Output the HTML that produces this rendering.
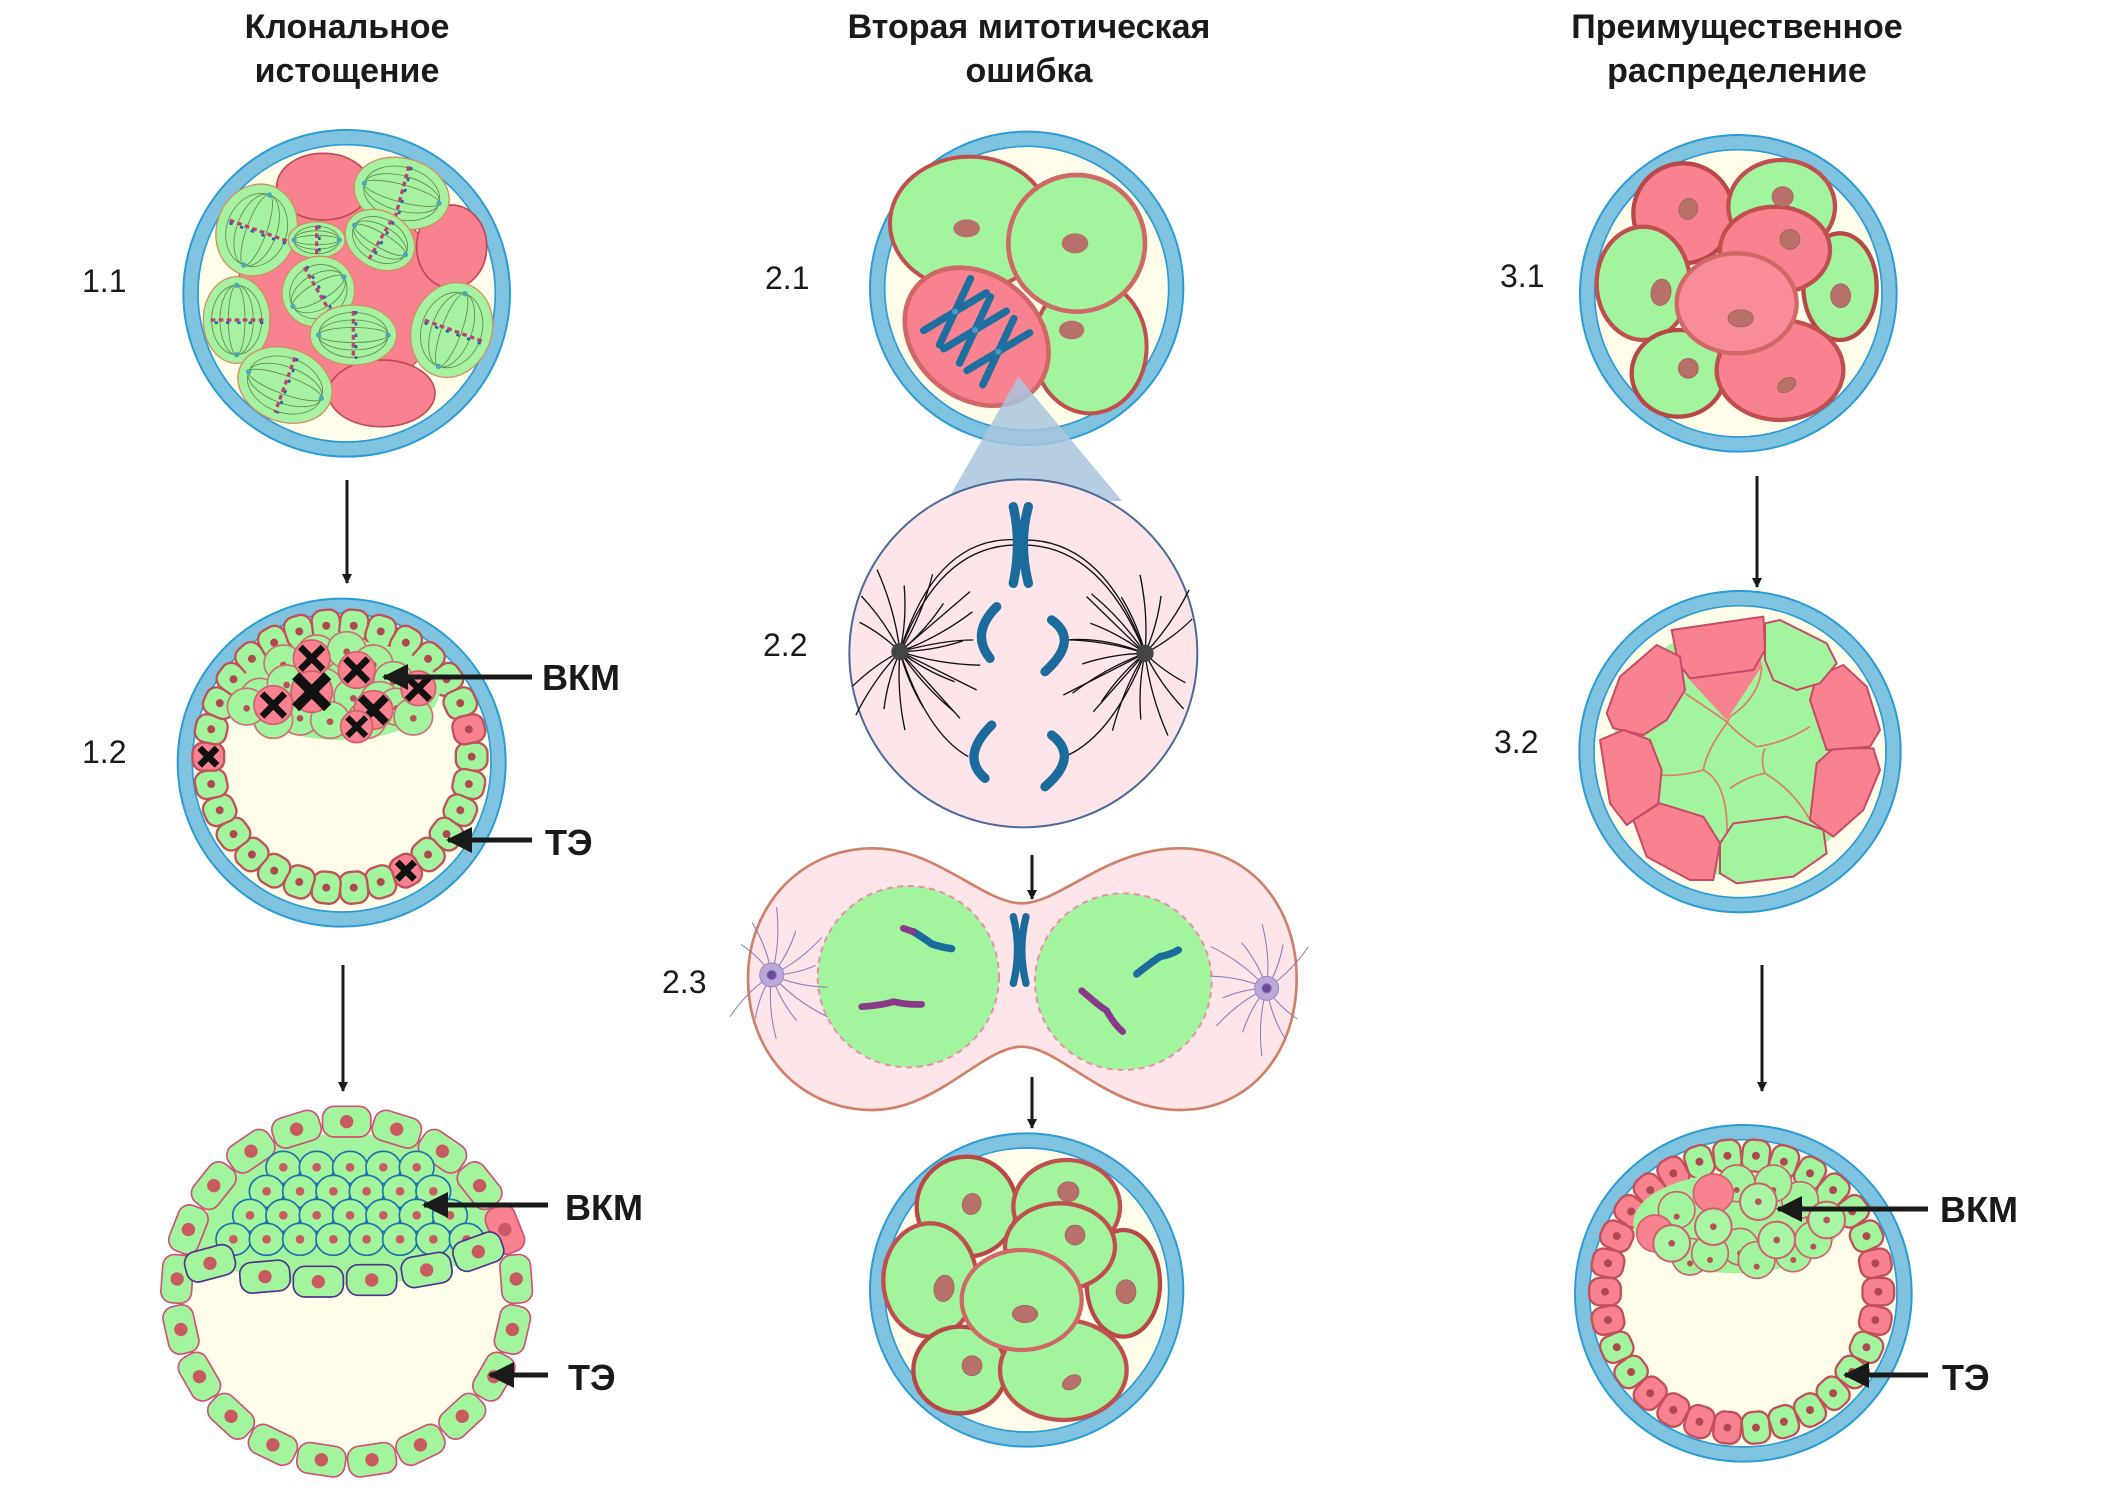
<!DOCTYPE html>
<html><head><meta charset="utf-8">
<style>
html,body{margin:0;padding:0;background:#fff;}
svg{display:block;}
text{font-family:"Liberation Sans",sans-serif;}
</style></head>
<body>
<svg id="s" xmlns="http://www.w3.org/2000/svg" width="2126" height="1495" viewBox="0 0 2126 1495">
<defs>
<marker id="ah" markerWidth="10" markerHeight="10" refX="9" refY="5" orient="auto" markerUnits="userSpaceOnUse"><path d="M0,0 L10,5 L0,10 Z" fill="#1a1a1a"/></marker>
<marker id="ahb" markerWidth="26" markerHeight="26" refX="24" refY="13" orient="auto" markerUnits="userSpaceOnUse"><path d="M0,0 L26,13 L0,26 Z" fill="#1a1a1a"/></marker>
</defs>
<g font-weight="bold" font-size="34" fill="#1a1a1a" text-anchor="middle">
<text x="347" y="38">Клональное</text><text x="347" y="82">истощение</text>
<text x="1029" y="38">Вторая митотическая</text><text x="1029" y="82">ошибка</text>
<text x="1737" y="38">Преимущественное</text><text x="1737" y="82">распределение</text>
</g>
<g font-size="32" fill="#1a1a1a">
<text x="82" y="292">1.1</text><text x="82" y="763">1.2</text>
<text x="765" y="289">2.1</text><text x="763" y="656">2.2</text><text x="662" y="993">2.3</text>
<text x="1500" y="287">3.1</text><text x="1494" y="753">3.2</text>
</g>
<g id="art"></g>
<g stroke="#1a1a1a" stroke-width="3" fill="none">
<line x1="347" y1="480" x2="347" y2="583" marker-end="url(#ah)"/>
<line x1="343" y1="965" x2="343" y2="1091" marker-end="url(#ah)"/>
<line x1="1032" y1="855" x2="1032" y2="899" marker-end="url(#ah)"/>
<line x1="1032" y1="1077" x2="1032" y2="1128" marker-end="url(#ah)"/>
<line x1="1757" y1="476" x2="1757" y2="587" marker-end="url(#ah)"/>
<line x1="1762" y1="965" x2="1762" y2="1091" marker-end="url(#ah)"/>
</g>
<g stroke="#1a1a1a" stroke-width="5" fill="none">
<line x1="532" y1="677" x2="384" y2="677" marker-end="url(#ahb)"/>
<line x1="532" y1="840" x2="448" y2="840" marker-end="url(#ahb)"/>
<line x1="548" y1="1205" x2="424" y2="1205" marker-end="url(#ahb)"/>
<line x1="548" y1="1375" x2="490" y2="1375" marker-end="url(#ahb)"/>
<line x1="1928" y1="1209" x2="1778" y2="1209" marker-end="url(#ahb)"/>
<line x1="1928" y1="1375" x2="1845" y2="1375" marker-end="url(#ahb)"/>
</g>
<g font-weight="bold" font-size="36" fill="#1a1a1a">
<text x="542" y="690">ВКМ</text><text x="545" y="855">ТЭ</text>
<text x="565" y="1220">ВКМ</text><text x="568" y="1390">ТЭ</text>
<text x="1940" y="1222">ВКМ</text><text x="1942" y="1390">ТЭ</text>
</g>
</svg>
<script>
var G='#a2f59c',P='#f98290',S='#c2505a',N='#b8706a';
var out='';
function grp(x0,y0,inner){out+='<g transform="translate('+x0+','+y0+') scale(0.33333)">'+inner+'</g>';}
function zona(cx,cy,R){return '<circle cx="'+cx+'" cy="'+cy+'" r="'+(R-44)+'" fill="#fffdea"/>'+
'<circle cx="'+cx+'" cy="'+cy+'" r="'+(R-22)+'" fill="none" stroke="#80c3e0" stroke-width="44"/>'+
'<circle cx="'+cx+'" cy="'+cy+'" r="'+R+'" fill="none" stroke="#2b9bd3" stroke-width="6"/>'+
'<circle cx="'+cx+'" cy="'+cy+'" r="'+(R-44)+'" fill="none" stroke="#2b9bd3" stroke-width="5"/>';}
function el(x,y,rx,ry,f,st,sw,rot){return '<ellipse cx="'+x+'" cy="'+y+'" rx="'+rx+'" ry="'+ry+'" fill="'+f+'" stroke="'+(st||'none')+'" stroke-width="'+(sw||0)+'"'+(rot?' transform="rotate('+rot+' '+x+' '+y+')"':'')+'/>';}
function cross(x,y,s,w){return '<path d="M'+(x-s)+','+(y-s)+'L'+(x+s)+','+(y+s)+'M'+(x+s)+','+(y-s)+'L'+(x-s)+','+(y+s)+'" stroke="#111" stroke-width="'+w+'" fill="none"/>';}
function rc(x,y,w,h,a,f,st,sw,nr,nf){return '<g transform="translate('+x+','+y+') rotate('+a+')"><rect x="'+(-w/2)+'" y="'+(-h/2)+'" width="'+w+'" height="'+h+'" rx="'+(Math.min(w,h)*0.38)+'" fill="'+f+'" stroke="'+st+'" stroke-width="'+sw+'"/><circle r="'+nr+'" fill="'+nf+'"/></g>';}

/* 1.1 */
(function(){var s=zona(500,490,490);
s+=el(480,500,310,290,P,'#c05060',4);
[[430,170,140,100,0],[815,350,105,125,0],[605,790,160,100,0]].forEach(function(c){s+=el(c[0],c[1],c[2],c[3],P,'#c04a5a',5,c[4]);});
[[230,300,120,140,20],[665,190,145,105,15],[410,330,85,55,0],[600,330,110,85,30],[415,485,110,105,-30],[170,570,100,130,0],[520,615,130,90,0],[815,600,120,145,20],[315,765,145,110,20]].forEach(function(c){
 var x=c[0],y=c[1],rx=c[2],ry=c[3],r=c[4];var maj=Math.max(rx,ry),min=Math.min(rx,ry);var vert=ry>rx;
 var g='<g transform="translate('+x+','+y+') rotate('+(r+(vert?90:0))+')">';
 g+='<ellipse rx="'+maj+'" ry="'+min+'" fill="#a6f2a0" stroke="#d09060" stroke-width="4"/>';
 [0.25,0.5,0.75].forEach(function(k){g+='<ellipse rx="'+maj*0.8+'" ry="'+min*k+'" fill="none" stroke="#5e8a50" stroke-width="2.5"/>';});
 g+='<line x1="0" y1="'+(-min*0.8)+'" x2="0" y2="'+(min*0.8)+'" stroke="#c04070" stroke-width="10" stroke-dasharray="14 10"/>';
 g+='<line x1="8" y1="'+(-min*0.8)+'" x2="8" y2="'+(min*0.8)+'" stroke="#3060b0" stroke-width="8" stroke-dasharray="10 24"/>';
 g+='<circle cx="'+(-maj*0.8)+'" r="8" fill="#4aa8b8"/><circle cx="'+(maj*0.8)+'" r="8" fill="#4aa8b8"/></g>';s+=g;});
grp(180,130,s);})();

/* 1.2 */
(function(){var s=zona(545,488,492);var cx=540,cy=470,R=395,n=30;
for(var i=0;i<n;i++){var t=i/n*2*Math.PI;var x=cx+R*Math.cos(t),y=cy+R*Math.sin(t);var f=G;var d=t*180/Math.PI;
 if(Math.abs(d-180)<7||Math.abs(d-348)<7||Math.abs(d-60)<7)f=P;
 s+=rc(x,y,84,95,d+90,f,S,7,12,'#b04850');
 if(Math.abs(d-180)<7||Math.abs(d-60)<7)s+=cross(x,y,26,20);}
s+='<ellipse cx="540" cy="270" rx="300" ry="150" fill="'+G+'"/>';
[[370,190],[470,160],[560,150],[640,190],[700,240],[300,290],[380,250],[490,260],[580,290],[660,300],[420,350],[510,360],[620,360],[710,320],[340,360],[260,320],[760,350]].forEach(function(c){s+=el(c[0],c[1],58,55,G,'#d07078',5)+'<circle cx="'+c[0]+'" cy="'+(c[1]+5)+'" r="10" fill="#b85058"/>';});
[[455,175,55,34,20],[590,210,55,34,20],[340,315,58,34,20],[640,330,58,38,24],[590,380,48,28,18],[775,265,52,34,20],[455,275,62,48,30]].forEach(function(c){s+=el(c[0],c[1],c[2],c[2],P,'#d06070',5)+cross(c[0],c[1],c[3],c[4]);});
grp(160,600,s);})();

/* 1.3 */
(function(){var s='';var cx=560,cy=575,R=510;
s+='<circle cx="'+cx+'" cy="'+cy+'" r="'+(R-20)+'" fill="#fffdea"/>';
s+='<path d="M110,470 Q300,560 560,555 Q820,560 1010,430 L960,220 Q560,-20 170,220 Z" fill="'+G+'"/>';
var n=21;for(var i=0;i<n;i++){var t=i/n*2*Math.PI-Math.PI/2;var x=cx+R*Math.cos(t),y=cy+R*Math.sin(t);var d=t*180/Math.PI;var f=G;if(i==4)f=P;
 s+=rc(x,y,145,92,d+90,f,'#d05078',5,20,'#c85a60');}
for(var y=130;y<=420;y+=72){var off=((y-130)/72)%2?50:0;for(var x=120+off;x<=1000;x+=100){var dx=x-cx,dy=y-cy;if(Math.sqrt(dx*dx+dy*dy)<R-80){var f=(Math.abs(x-420)<50&&Math.abs(y-202)<40)?P:G;s+=el(x,y,52,48,f,'#2070b0',5)+'<circle cx="'+x+'" cy="'+y+'" r="13" fill="#c85a60"/>';}}}
[[150,490,-15],[315,530,-5],[475,545,0],[635,540,0],[800,510,-10],[955,455,-20]].forEach(function(c){s+=rc(c[0],c[1],150,92,c[2],G,'#503090',5,20,'#c85a60');});
grp(160,1100,s);})();

/* 2.1 */
(function(){var s=zona(470,475,470);
s+=el(300,280,240,200,G,'#c05050',12);s+=el(660,650,170,200,G,'#c05050',12);
s+=el(320,620,235,185,P,'#d06868',14,40);s+=el(620,340,205,205,G,'#d06868',14);
s+=el(290,295,40,27,N)+el(615,340,40,30,N)+el(605,600,38,28,N);
[[255,545],[315,600],[385,665]].forEach(function(c){s+='<g transform="translate('+c[0]+','+c[1]+') rotate(-48)" stroke="#1f6ea0" stroke-width="22" stroke-linecap="round" fill="none"><path d="M-105,-32 Q0,0 105,32"/><path d="M-105,32 Q0,0 105,-32"/></g><circle cx="'+c[0]+'" cy="'+c[1]+'" r="9" fill="#4a9ac0"/>';});
s+='<polygon points="445,740 231,1113 756,1113" fill="#a9c6dc" opacity="0.85"/>';
grp(870,130,s);})();

/* 2.2 */
(function(){var s='<circle cx="520" cy="520" r="522" fill="#fde5ea" stroke="#4a6a9a" stroke-width="6"/>';
var L=[150,515],Rp=[885,520];var ln='';
function fan(p,dir){for(var k=0;k<16;k++){var a=(k/15-0.5)*Math.PI*1.6+(dir>0?0:Math.PI);var l=150+((k*53)%110);var x2=p[0]+l*Math.cos(a),y2=p[1]+l*Math.sin(a);var mx=p[0]+l*0.5*Math.cos(a+0.15),my=p[1]+l*0.5*Math.sin(a+0.15);ln+='<path d="M'+p[0]+','+p[1]+' Q'+mx+','+my+' '+x2+','+y2+'"/>';}}
fan(L,1);fan(Rp,-1);
ln+='<path d="M150,515 Q260,160 510,180 Q760,170 885,520"/><path d="M150,515 Q270,190 510,195 Q750,190 885,520"/>';
ln+='<path d="M150,515 Q230,760 355,830"/><path d="M885,520 Q790,760 655,825"/><path d="M150,515 Q280,480 370,480"/><path d="M885,520 Q760,470 650,480"/>';
ln+='<path d="M150,515 L360,335"/><path d="M150,515 L330,715"/><path d="M885,520 L710,350"/><path d="M885,520 L730,695"/><path d="M150,515 L380,630"/><path d="M885,520 L640,645"/>';
s+='<g stroke="#111" stroke-width="4" fill="none">'+ln+'</g>';
s+='<circle cx="150" cy="515" r="26" fill="#444"/><circle cx="885" cy="520" r="26" fill="#444"/>';
s+='<g stroke="#1b6c9c" stroke-width="28" stroke-linecap="round" fill="none"><path d="M490,80 Q515,190 490,310"/><path d="M535,80 Q505,190 535,310"/><path d="M440,380 Q360,460 420,535"/><path d="M605,420 Q690,480 585,575"/><path d="M425,735 Q330,830 405,895"/><path d="M605,765 Q690,830 585,920"/></g>';
grp(850,480,s);})();

/* 2.3 */
(function(){var s='<path d="M815,190 C700,190 560,25 370,25 C150,25 -6,200 -6,415 C-6,640 150,810 370,810 C560,810 700,620 815,620 C930,620 1070,810 1290,810 C1500,810 1640,640 1640,415 C1640,200 1500,25 1290,25 C1070,25 930,190 815,190 Z" fill="#fde5ea" stroke="#d08068" stroke-width="8"/>';
s+='<circle cx="475" cy="410" r="272" fill="'+G+'" stroke="#e890a8" stroke-width="6" stroke-dasharray="18 14"/>';
s+='<circle cx="1120" cy="425" r="265" fill="'+G+'" stroke="#e890a8" stroke-width="6" stroke-dasharray="18 14"/>';
s+='<g stroke="#1b6c9c" stroke-width="22" stroke-linecap="round" fill="none"><path d="M790,230 Q815,330 790,430"/><path d="M828,230 Q803,330 828,430"/><path d="M490,275 Q530,300 545,312 Q575,322 605,326"/><path d="M1160,402 Q1200,370 1230,350 Q1260,345 1285,330"/></g>';
s+='<g stroke="#8a3a8a" stroke-width="20" stroke-linecap="round" fill="none"><path d="M335,500 Q400,495 430,485 Q470,495 515,493"/><path d="M995,452 Q1050,500 1070,512 Q1090,550 1118,575"/><path d="M460,265 L490,275"/></g>';
var a='';[[65,405],[1550,445]].forEach(function(p,j){for(var k=0;k<12;k++){var an=(k/11-0.5)*Math.PI*1.5+(j?Math.PI:0);var l=130+((k*37)%90);a+='<path d="M'+p[0]+','+p[1]+' Q'+(p[0]+l*0.5*Math.cos(an+0.2))+','+(p[1]+l*0.5*Math.sin(an+0.2))+' '+(p[0]+l*Math.cos(an))+','+(p[1]+l*Math.sin(an))+'"/>';}
 a+='<circle cx="'+p[0]+'" cy="'+p[1]+'" r="36" fill="#b9a8d8" stroke="#9a88c8" stroke-width="3"/><circle cx="'+p[0]+'" cy="'+p[1]+'" r="14" fill="#6a4a9a"/>';});
s+='<g stroke="#8a78b8" stroke-width="3" fill="none">'+a+'</g>';
grp(750,840,s);})();

function morula(z,cells,nuc){var s=zona(z[0],z[1],z[2]);cells.forEach(function(c){s+=el(c[0],c[1],c[2],c[3],c[4],c[5]||'#c05050',13,c[6]||0);});nuc.forEach(function(n){s+=el(n[0],n[1],n[2]||30,n[3]||25,N,'#a05a55',2,n[4]||0);});return s;}
grp(870,1140,morula([470,450,470],[[290,200,150,150,G,'#b84848'],[590,200,160,140,G],[760,430,110,160,G,'#b84848'],[570,320,165,130,G],[180,420,140,170,G],[270,690,140,130,G,'#b84848'],[580,690,190,150,G],[455,480,180,150,G,'#d06868']],[[305,192,28,32,20],[595,155,32,30],[615,285,30,30],[768,455,30,36],[222,445,30,40,10],[465,522,38,26],[306,677,30,30],[605,727,30,20,-30]]));
grp(1580,130,morula([475,490,475],[[310,250,150,150,P,'#b84848'],[605,230,160,140,G],[780,470,110,160,G,'#b84848'],[585,360,165,130,P],[190,460,140,170,G],[295,730,140,130,G,'#b84848'],[600,720,190,150,P],[470,520,180,150,'#f98c99','#d06868']],[[325,237,28,32,20],[608,200,32,30],[630,328,30,30],[782,497,30,36],[243,487,30,40,10],[482,565,38,26],[325,715,30,30],[620,765,30,20,-30]]));

/* 3.2 */
(function(){var s=zona(480,485,482);
s+='<circle cx="480" cy="480" r="380" fill="'+G+'"/>';
s+='<polygon points="320,260 440,390 545,230 540,180" fill="'+P+'"/>';
s+='<g stroke="#e07a6a" stroke-width="5" fill="none"><path d="M315,310 Q390,360 440,395 Q470,430 530,470 Q610,460 690,410"/><path d="M545,230 Q540,320 450,380 L440,400 Q380,480 370,540 Q300,560 240,555"/><path d="M370,540 Q450,580 440,760"/><path d="M450,595 Q500,560 555,550 Q640,600 690,690"/><path d="M555,550 Q540,510 555,475"/></g>';
function pg(pts,f){return '<path d="M'+pts+'Z" fill="'+f+'" stroke="#c84a68" stroke-width="6" stroke-linejoin="round"/>';}
s+=pg('275,120 550,80 555,180 520,240 330,265 295,220 ',P);
s+=pg('80,370 120,260 230,165 300,200 315,300 260,390 190,435 100,415 ',P);
s+=pg('60,450 130,420 210,450 245,540 235,640 140,705 90,640 ',P);
s+=pg('160,690 240,640 370,680 420,760 400,870 330,870 200,800 ',P);
s+=pg('420,760 460,700 620,680 730,720 740,790 640,860 470,880 420,850 ',G);
s+=pg('690,690 710,520 760,475 880,475 900,540 850,660 760,740 ',P);
s+=pg('690,330 710,260 790,225 860,290 900,420 870,470 740,480 ',P);
s+=pg('555,100 600,90 740,160 770,220 720,280 650,300 580,270 555,210 ',G);
grp(1580,590,s);})();

/* 3.3 */
(function(){var s=zona(490,520,505);var cx=485,cy=515,R=410,n=30;
for(var i=0;i<n;i++){var t=i/n*2*Math.PI;var x=cx+R*Math.cos(t),y=cy+R*Math.sin(t);var d=t*180/Math.PI;var f=G;
 if(d<20||d>340||(d>=88&&d<=135)||(d>=165&&d<=245))f=P;
 s+=rc(x,y,82,95,d+90,f,S,7,12,'#b04850');}
s+='<ellipse cx="470" cy="310" rx="310" ry="150" fill="'+G+'"/>';
[[535,245],[275,370],[595,365],[735,300],[660,240],[480,380],[530,420],[330,410],[290,270],[470,190],[580,190],[640,400],[700,360],[390,400]].forEach(function(c){s+=el(c[0],c[1],55,55,G,'#d06070',5)+'<circle cx="'+c[0]+'" cy="'+(c[1]+20)+'" r="9" fill="#b85058"/>';});
s+=el(400,220,60,58,P,'#d06070',5)+el(225,340,55,55,P,'#d06070',5);
[[535,245],[400,320],[275,370],[590,360],[740,300]].forEach(function(c){s+=el(c[0],c[1],55,55,'#a8f5a4','#d06070',6)+'<circle cx="'+c[0]+'" cy="'+c[1]+'" r="10" fill="#b85058"/>';});
grp(1580,1120,s);})();

document.getElementById('art').innerHTML=out;
</script>
</body></html>
